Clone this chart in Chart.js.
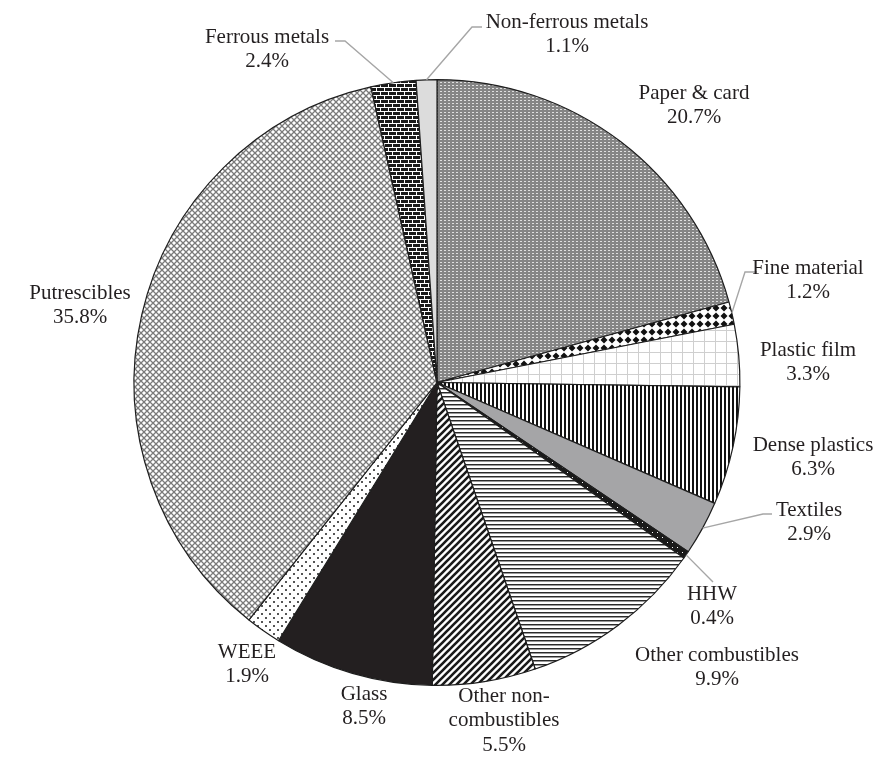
<!DOCTYPE html>
<html>
<head>
<meta charset="utf-8">
<script src="https://cdn.jsdelivr.net/npm/chart.js@4"></script>
<style>
  html, body { margin: 0; padding: 0; background: #fff; }
  #wrap { width: 884px; height: 759px; position: relative; }
</style>
</head>
<body>
<div id="wrap"><canvas id="pieChart"></canvas></div>
<script>
// composition of waste, % by weight
const categories = ["Paper & card", "Fine material", "Plastic film", "Dense plastics", "Textiles", "HHW",
  "Other combustibles", "Other non-combustibles", "Glass", "WEEE", "Putrescibles", "Ferrous metals", "Non-ferrous metals"];
const shares = [20.7, 1.2, 3.3, 6.3, 2.9, 0.4, 9.9, 5.5, 8.5, 1.9, 35.8, 2.4, 1.1];
const shareLabels = ["20.7%", "1.2%", "3.3%", "6.3%", "2.9%", "0.4%", "9.9%", "5.5%", "8.5%", "1.9%", "35.8%", "2.4%", "1.1%"];

// where each label sits (text centre x, first line y) and the bend points of its leader line
const labelLayout = [
  { x: 694, y: 93 },
  { x: 808, y: 268, leader: [[745, 272], [757, 272]] },
  { x: 808, y: 350 },
  { x: 813, y: 445 },
  { x: 809, y: 510, leader: [[763, 514], [772, 514]] },
  { x: 712, y: 594, leader: [[713, 582]] },
  { x: 717, y: 655 },
  { x: 504, y: 696, lines: ["Other non-", "combustibles"] },
  { x: 364, y: 694 },
  { x: 247, y: 652 },
  { x: 80, y: 293 },
  { x: 267, y: 37, leader: [[345, 41], [335, 41]] },
  { x: 567, y: 22, leader: [[472, 27], [482, 27]] }
];

function tile(w, h, draw) {
  const c = document.createElement('canvas');
  c.width = w; c.height = h;
  const g = c.getContext('2d');
  draw(g, w, h);
  return g.createPattern(c, 'repeat');
}

function makeFills() {
  return [
    // paper: grey with light dashes
    tile(4, 3, (g) => { g.fillStyle = '#858585'; g.fillRect(0, 0, 4, 3); g.fillStyle = '#dedede'; g.fillRect(0, 1, 2, 1); }),
    // fine material: diamonds
    tile(8, 8, (g) => {
      g.fillStyle = '#fff'; g.fillRect(0, 0, 8, 8);
      g.fillStyle = '#111';
      g.beginPath(); g.moveTo(4, 0.5); g.lineTo(7.5, 4); g.lineTo(4, 7.5); g.lineTo(0.5, 4); g.closePath(); g.fill();
    }),
    // plastic film: light grid
    tile(11, 11, (g) => { g.fillStyle = '#fff'; g.fillRect(0, 0, 11, 11); g.fillStyle = '#cfcfcf'; g.fillRect(0, 0, 11, 1); g.fillRect(0, 0, 1, 11); }),
    // dense plastics: vertical stripes
    tile(4, 1, (g) => { g.fillStyle = '#fff'; g.fillRect(0, 0, 4, 1); g.fillStyle = '#111'; g.fillRect(0, 0, 2, 1); }),
    '#a5a5a7',
    // HHW: black with white dots
    tile(5, 5, (g) => { g.fillStyle = '#1a1a1a'; g.fillRect(0, 0, 5, 5); g.fillStyle = '#fff'; g.fillRect(2, 2, 1, 1); }),
    // other combustibles: horizontal lines
    tile(1, 4, (g) => { g.fillStyle = '#fff'; g.fillRect(0, 0, 1, 4); g.fillStyle = '#2a2a2a'; g.fillRect(0, 0, 1, 1); g.fillStyle = '#999'; g.fillRect(0, 1, 1, 1); }),
    // other non-combustibles: wide diagonal
    tile(7, 7, (g) => {
      g.fillStyle = '#fff'; g.fillRect(0, 0, 7, 7);
      g.strokeStyle = '#1a1a1a'; g.lineWidth = 2.6;
      g.beginPath(); g.moveTo(-1, 8); g.lineTo(8, -1); g.moveTo(-2, 2); g.lineTo(2, -2); g.moveTo(5, 9); g.lineTo(9, 5); g.stroke();
    }),
    '#231f20',
    // WEEE: sparse dots
    tile(8, 8, (g) => { g.fillStyle = '#fff'; g.fillRect(0, 0, 8, 8); g.fillStyle = '#555'; g.fillRect(1, 1, 2, 2); g.fillRect(5, 5, 2, 2); }),
    // putrescibles: diagonal crosshatch
    tile(6, 6, (g) => {
      g.fillStyle = '#fff'; g.fillRect(0, 0, 6, 6);
      g.strokeStyle = '#7a7a7a'; g.lineWidth = 1.3;
      g.beginPath(); g.moveTo(0, 0); g.lineTo(6, 6); g.moveTo(6, 0); g.lineTo(0, 6); g.stroke();
    }),
    // ferrous metals: bricks
    tile(8, 8, (g) => {
      g.fillStyle = '#1a1a1a'; g.fillRect(0, 0, 8, 8);
      g.fillStyle = '#fff';
      g.fillRect(0, 3, 8, 1); g.fillRect(0, 7, 8, 1);
      g.fillRect(0, 0, 1, 3); g.fillRect(4, 4, 1, 3);
    }),
    '#dcdcdc'
  ];
}

const labelPlugin = {
  id: 'sliceLabels',
  afterDatasetsDraw(chart) {
    const ctx = chart.ctx;
    const arcs = chart.getDatasetMeta(0).data;
    ctx.save();
    ctx.font = '21px "Liberation Serif", "Times New Roman", serif';
    ctx.fillStyle = '#231f20';
    ctx.textAlign = 'center';
    ctx.textBaseline = 'middle';
    arcs.forEach((arc, i) => {
      const lay = labelLayout[i];
      if (lay.leader) {
        const mid = (arc.startAngle + arc.endAngle) / 2;
        ctx.strokeStyle = '#a6a6a6';
        ctx.lineWidth = 1.4;
        ctx.beginPath();
        ctx.moveTo(arc.x + Math.cos(mid) * arc.outerRadius, arc.y + Math.sin(mid) * arc.outerRadius);
        lay.leader.forEach(p => ctx.lineTo(p[0], p[1]));
        ctx.stroke();
      }
      const lines = (lay.lines || [categories[i]]).concat([shareLabels[i]]);
      lines.forEach((t, k) => ctx.fillText(t, lay.x, lay.y + k * 24.5));
    });
    ctx.restore();
  }
};

new Chart(document.getElementById('pieChart'), {
  type: 'pie',
  data: {
    labels: categories,
    datasets: [{
      data: shares,
      backgroundColor: makeFills(),
      borderColor: '#1e1e1e',
      borderWidth: 1.2
    }]
  },
  options: {
    responsive: true,
    maintainAspectRatio: false,
    animation: false,
    layout: { padding: { top: 79, bottom: 73, left: 100, right: 110 } },
    plugins: { legend: { display: false }, tooltip: { enabled: false } }
  },
  plugins: [labelPlugin]
});
</script>
</body>
</html>
